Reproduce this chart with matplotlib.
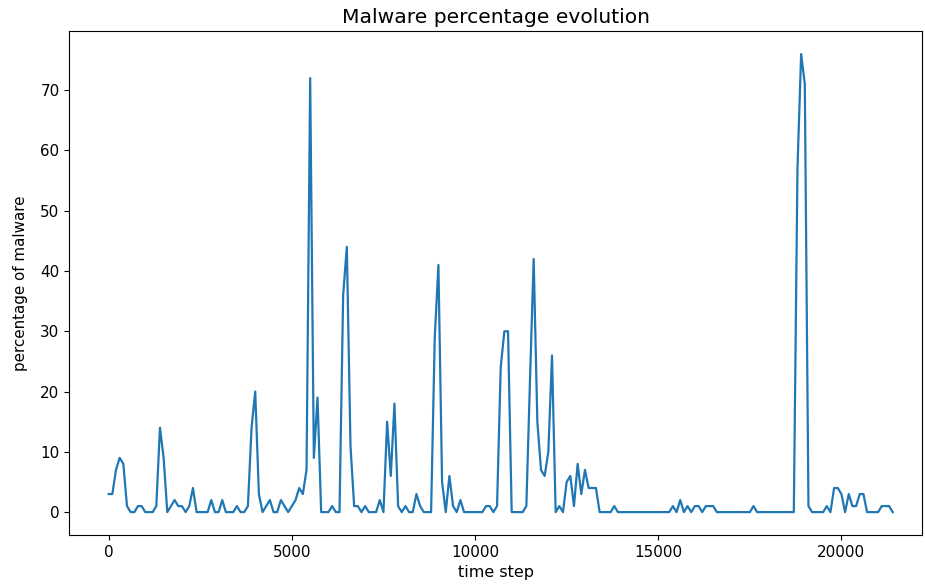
import matplotlib
matplotlib.use("Agg")
import matplotlib.pyplot as plt
import numpy as np

# Sampling interval of the simulation log (time steps between records)
step_interval = 100

# Percentage of malware recorded at each sample
malware_pct = [
    3, 3, 7, 9, 8, 1, 0, 0, 1, 1,
    0, 0, 0, 1, 14, 9, 0, 1, 2, 1,
    1, 0, 1, 4, 0, 0, 0, 0, 2, 0,
    0, 2, 0, 0, 0, 1, 0, 0, 1, 14,
    20, 3, 0, 1, 2, 0, 0, 2, 1, 0,
    1, 2, 4, 3, 7, 72, 9, 19, 0, 0,
    0, 1, 0, 0, 36, 44, 11, 1, 1, 0,
    1, 0, 0, 0, 2, 0, 15, 6, 18, 1,
    0, 1, 0, 0, 3, 1, 0, 0, 0, 29,
    41, 5, 0, 6, 1, 0, 2, 0, 0, 0,
    0, 0, 0, 1, 1, 0, 1, 24, 30, 30,
    0, 0, 0, 0, 1, 22, 42, 15, 7, 6,
    10, 26, 0, 1, 0, 5, 6, 1, 8, 3,
    7, 4, 4, 4, 0, 0, 0, 0, 1, 0,
    0, 0, 0, 0, 0, 0, 0, 0, 0, 0,
    0, 0, 0, 0, 1, 0, 2, 0, 1, 0,
    1, 1, 0, 1, 1, 1, 0, 0, 0, 0,
    0, 0, 0, 0, 0, 0, 1, 0, 0, 0,
    0, 0, 0, 0, 0, 0, 0, 0, 57, 76,
    71, 1, 0, 0, 0, 0, 1, 0, 4, 4,
    3, 0, 3, 1, 1, 3, 3, 0, 0, 0,
    0, 1, 1, 1, 0,
]

time_steps = np.arange(len(malware_pct)) * step_interval

plt.rcParams["font.size"] = 10.9

fig = plt.figure(figsize=(9.25, 5.88), dpi=100)
ax = fig.add_axes([0.0749, 0.0901, 0.9219, 0.857])
ax.plot(time_steps, malware_pct, color="#1f77b4", linewidth=1.6)
ax.set_xlim(-1075, 22200)
ax.set_title("Malware percentage evolution", fontsize=14.6, pad=6)
ax.set_xlabel("time step", fontsize=11.5)
ax.set_ylabel("percentage of malware", labelpad=9)

fig.savefig("out.png", dpi=100)
